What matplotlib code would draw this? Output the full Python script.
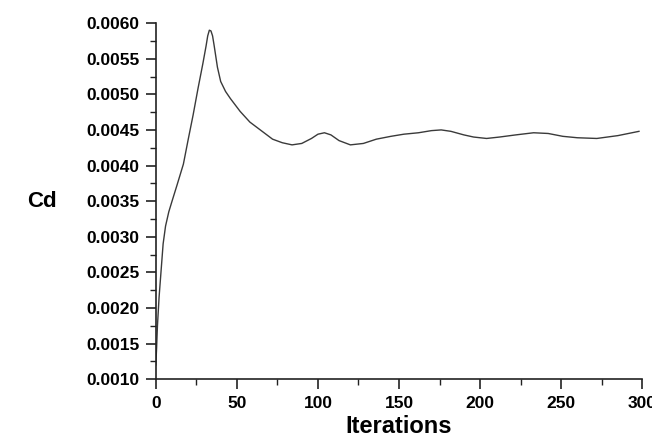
import numpy as np
import matplotlib.pyplot as plt
from matplotlib.ticker import MultipleLocator, FormatStrFormatter

# Drag coefficient convergence history.
iterations = [0, 0.5, 1, 2, 3, 4.5, 6, 8, 10, 13, 17, 20, 23, 26, 29, 31, 32,
              33, 34, 35, 36, 38, 40, 43, 46, 52, 58, 65, 72, 78, 84, 90, 96,
              100, 104, 108, 113, 120, 128, 136, 145, 153, 162, 170, 176, 182,
              190, 196, 204, 212, 222, 233, 242, 251, 260, 272, 285, 298]
cd = [0.00120, 0.00145, 0.00175, 0.00215, 0.00245, 0.00290, 0.00315, 0.00335,
      0.00350, 0.00372, 0.00402, 0.00437, 0.00471, 0.00508, 0.00543, 0.00568,
      0.00582, 0.00590, 0.00589, 0.00582, 0.00568, 0.00538, 0.00518, 0.00504,
      0.00494, 0.00476, 0.00461, 0.00449, 0.00437, 0.00432, 0.00429, 0.00431,
      0.00438, 0.00444, 0.00446, 0.00443, 0.00435, 0.00429, 0.00431, 0.00437,
      0.00441, 0.00444, 0.00446, 0.00449, 0.00450, 0.00448, 0.00443, 0.00440,
      0.00438, 0.00440, 0.00443, 0.00446, 0.00445, 0.00441, 0.00439, 0.00438,
      0.00442, 0.00448]

plt.rcParams["font.family"] = ["Liberation Sans", "DejaVu Sans"]

fig = plt.figure(figsize=(6.52, 4.44), dpi=100)
ax = fig.add_axes([0.239, 0.146, 0.746, 0.802])

ax.plot(iterations, cd, color="#3a3a3a", linewidth=1.0)

ax.set_xlim(0, 300)
ax.set_ylim(0.0010, 0.0060)
ax.xaxis.set_major_locator(MultipleLocator(50))
ax.xaxis.set_minor_locator(MultipleLocator(25))
ax.yaxis.set_major_locator(MultipleLocator(0.0005))
ax.yaxis.set_minor_locator(MultipleLocator(0.00025))
ax.yaxis.set_major_formatter(FormatStrFormatter("%.4f"))

for side in ("top", "right"):
    ax.spines[side].set_visible(False)
for side in ("left", "bottom"):
    ax.spines[side].set_linewidth(1.2)
    ax.spines[side].set_color("#222222")

ax.tick_params(which="major", direction="out", length=7, width=1.2,
               colors="#222222", labelsize=12.5, pad=5)
ax.tick_params(which="minor", direction="out", length=4, width=1.0,
               colors="#222222")
for lbl in ax.get_xticklabels() + ax.get_yticklabels():
    lbl.set_fontweight("bold")
    lbl.set_color("black")

ax.set_xlabel("Iterations", fontsize=17, fontweight="bold", labelpad=3)
ax.set_ylabel("Cd", fontsize=16, fontweight="bold", rotation=0,
              labelpad=32, va="center")

fig.savefig("out.png", dpi=100)
